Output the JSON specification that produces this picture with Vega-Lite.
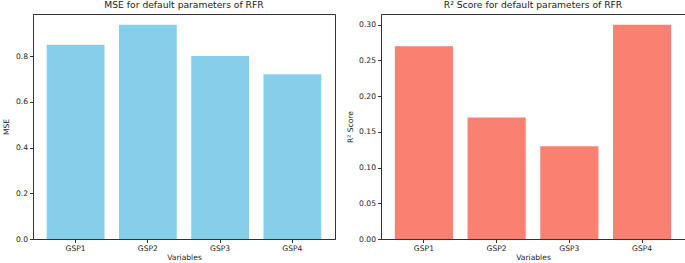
{
  "$schema": "https://vega.github.io/schema/vega-lite/v6.json",
  "background": "white",
  "padding": {"left": 2, "top": 0, "right": 3, "bottom": 2},
  "spacing": 10,
  "config": {
    "font": "DejaVu Sans",
    "view": {"stroke": "#333", "strokeWidth": 1},
    "axis": {
      "grid": false,
      "domain": true,
      "domainColor": "#333",
      "tickColor": "#333",
      "tickSize": 3.5,
      "labelFontSize": 7.6,
      "titleFontSize": 7.6,
      "titleFontWeight": "normal",
      "labelColor": "#222",
      "titleColor": "#222",
      "zindex": 1
    },
    "title": {"fontSize": 9.2, "fontWeight": "normal", "offset": 4, "color": "#222"}
  },
  "datasets": {
    "mse": [
      {"variable": "GSP1", "value": 0.85},
      {"variable": "GSP2", "value": 0.937},
      {"variable": "GSP3", "value": 0.80},
      {"variable": "GSP4", "value": 0.72}
    ],
    "r2": [
      {"variable": "GSP1", "value": 0.27},
      {"variable": "GSP2", "value": 0.17},
      {"variable": "GSP3", "value": 0.13},
      {"variable": "GSP4", "value": 0.30}
    ]
  },
  "hconcat": [
    {
      "title": "MSE for default parameters of RFR",
      "width": 302,
      "height": 225,
      "data": {"name": "mse"},
      "mark": {"type": "bar", "color": "#87CEEB"},
      "encoding": {
        "x": {
          "field": "variable",
          "type": "nominal",
          "title": "Variables",
          "scale": {"paddingInner": 0.2, "paddingOuter": 0.19},
          "axis": {"labelAngle": 0, "labelPadding": 1.5, "titlePadding": 1.5}
        },
        "y": {
          "field": "value",
          "type": "quantitative",
          "title": "MSE",
          "scale": {"domain": [0, 0.984], "nice": false},
          "axis": {"values": [0, 0.2, 0.4, 0.6, 0.8], "format": ".1f", "labelPadding": 2, "minExtent": 17, "maxExtent": 17, "titlePadding": 5.5}
        }
      }
    },
    {
      "title": "R² Score for default parameters of RFR",
      "width": 304,
      "height": 225,
      "data": {"name": "r2"},
      "mark": {"type": "bar", "color": "#FA8072"},
      "encoding": {
        "x": {
          "field": "variable",
          "type": "nominal",
          "title": "Variables",
          "scale": {"paddingInner": 0.2, "paddingOuter": 0.19},
          "axis": {"labelAngle": 0, "labelPadding": 1.5, "titlePadding": 1.5}
        },
        "y": {
          "field": "value",
          "type": "quantitative",
          "title": "R² Score",
          "scale": {"domain": [0, 0.315], "nice": false},
          "axis": {"values": [0, 0.05, 0.1, 0.15, 0.2, 0.25, 0.3], "format": ".2f", "labelPadding": 2, "minExtent": 21, "maxExtent": 21, "titlePadding": 5.5}
        }
      }
    }
  ]
}
